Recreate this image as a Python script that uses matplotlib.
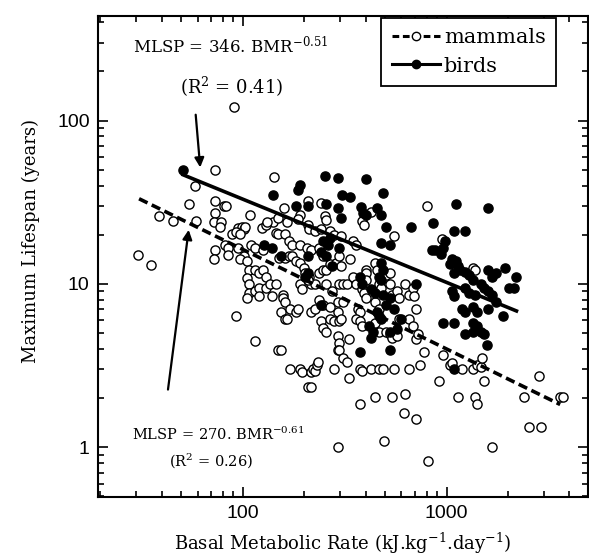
import numpy as np
import matplotlib
matplotlib.use('Agg')
import matplotlib.pyplot as plt
from matplotlib.lines import Line2D
from matplotlib.ticker import LogLocator, NullFormatter, FixedLocator, FixedFormatter

plt.rcParams['font.family'] = 'DejaVu Serif'
plt.rcParams['mathtext.fontset'] = 'dejavuserif'

# Mammals: basal metabolic rate (kJ/kg/day) vs maximum lifespan (years)
mammal_bmr = [90.7, 73, 142, 58, 54.5, 73, 80.5, 83, 159, 109, 39, 45.5, 58.8, 73, 72, 78,
              209, 241, 252, 191, 187, 140, 148, 164, 77.5, 95, 99, 101, 103, 89, 93, 97,
              124, 130, 131, 145, 148, 208, 212, 226, 241, 256, 268, 280, 304, 346, 361,
              384, 393, 427, 552, 161, 168, 175, 191, 206, 216, 236, 246, 81.5, 85, 73, 72,
              85, 95, 101, 110, 115, 125, 97, 105, 107, 115, 120, 125, 130, 151, 161, 168,
              175, 182, 191, 199, 203, 212, 216, 226, 105, 107, 107, 115, 120, 130, 136, 145,
              105, 120, 139, 158, 158, 161, 191, 195, 208, 236, 246, 256, 268, 285, 304, 298,
              310, 323, 256, 273, 236, 246, 268, 292, 310, 298, 337, 346, 361, 384, 393, 402,
              402, 402, 402, 446, 455, 465, 475, 528, 538, 573, 585, 624, 650, 682, 693, 705,
              446, 465, 367, 375, 361, 375, 384, 446, 465, 505, 528, 538, 573, 585, 650, 682,
              705, 720, 505, 528, 949, 801, 1346, 1375, 154, 161, 164, 171, 182, 187, 216, 226,
              241, 246, 268, 280, 292, 298, 304, 292, 298, 331, 292, 298, 310, 323, 256, 148,
              154, 115, 93, 171, 191, 195, 216, 221, 226, 231, 234, 208, 216, 280, 331, 375,
              384, 427, 465, 485, 552, 650, 743, 918, 1043, 1065, 1185, 1346, 1404, 1465, 1497,
              1529, 958, 775, 375, 446, 538, 624, 1135, 1375, 1404, 614, 705, 495, 292, 808,
              1665, 2546, 2895, 2389, 2832, 3578, 3734, 30.7, 35.6]
mammal_mlsp = [122, 50, 45, 40, 31, 32, 30, 30, 29, 26.6, 26, 24.4, 24.2, 27, 24, 24,
               32.4, 31.3, 26, 26.6, 25, 24, 25.3, 24, 22.4, 22, 22.4, 21.8, 22.4, 20.2, 20.7, 20.2,
               22, 23, 24, 20.4, 20.2, 23, 21.8, 21.2, 21.8, 24.7, 21.2, 19.9, 19.7, 18.3, 17.4,
               24.3, 23, 27.5, 19.7, 20.2, 18.3, 17.4, 17.4, 16.5, 16.1, 16.5, 14.9, 17.4, 16.5, 16.1, 14.2,
               15.1, 16.5, 14.9, 17.4, 16.5, 16.1, 14.2, 13.8, 12.2, 12.2, 11.6, 12.2, 11, 14.5, 14.5, 14.9,
               14.9, 13.8, 13.5, 12.5, 11.6, 11, 10, 10, 10.8, 10, 8.8, 9.1, 9.5, 9.5, 10, 10,
               8.2, 8.4, 8.4, 8.6, 8.2, 7.8, 10, 9.3, 10.5, 11.6, 12.2, 12.2, 13.2, 13.5, 12.8, 10,
               10, 10, 10, 9.1, 8, 7.4, 7.2, 7.8, 7.8, 14.9, 14.2, 11, 10, 9.3, 8.8, 8.2,
               12.2, 11.6, 10.5, 13.5, 12.2, 10, 9.5, 10, 8.6, 9.1, 8.2, 10, 8.6, 9.5, 8.4, 7.05,
               7.8, 7.05, 7.05, 6.7, 6.06, 5.9, 5.5, 5.76, 5.08, 5.08, 4.95, 4.7, 4.83, 6.06, 6.06, 5.5,
               4.6, 4.95, 11.3, 11.6, 18.9, 30, 12.5, 12.1, 6.7, 6.06, 6.06, 7.05, 6.7, 7.05, 6.7, 7.05,
               5.9, 5.34, 6.06, 5.9, 6.7, 5.9, 6.06, 4.83, 4.37, 4.6, 3.95, 3.95, 3.5, 3.34, 5.08, 3.95,
               3.95, 4.5, 6.4, 3.0, 3.0, 2.87, 2.87, 3.0, 2.94, 3.17, 3.34, 2.35, 2.35, 3.0, 2.66, 3.0,
               2.94, 3.0, 3.0, 3.0, 3.0, 3.0, 3.17, 2.53, 3.17, 3.26, 3.0, 3.0, 3.17, 3.1, 3.5,
               2.53, 3.68, 3.85, 1.83, 2.02, 2.02, 2.12, 2.02, 2.02, 1.83, 1.62, 1.5, 1.1, 1.0, 0.82,
               1.0, 1.33, 1.33, 2.02, 2.73, 2.02, 2.02, 15.1, 13.0]

# Birds
bird_bmr = [51, 140, 187, 191, 254, 292, 402, 485, 208, 182, 256, 292, 306, 337, 380, 389,
            402, 302, 455, 475, 668, 861, 1111, 1595, 1088, 1236, 505, 246, 268, 262, 241, 256,
            298, 475, 843, 880, 937, 1043, 1065, 1111, 1135, 1160, 1088, 1236, 1290, 1346, 1595, 1665,
            1737, 1930, 2190, 1465, 1529, 1595, 1665, 1236, 1290, 1375, 1065, 1088, 1185, 1236, 1346, 1404,
            1595, 1737, 1891, 2015, 2148, 1346, 1404, 1465, 1529, 1236, 1346, 1088, 958, 1580, 1088, 208,
            203, 208, 273, 375, 384, 427, 446, 475, 485, 465, 475, 485, 528, 505, 552, 600,
            455, 465, 475, 418, 436, 427, 528, 573, 705, 241, 375, 528, 528, 154, 127, 139,
            978, 958]
bird_mlsp = [50, 35, 37.5, 40.6, 46, 44.4, 43.8, 36.2, 30, 30, 31, 29.3, 35, 34, 29.6, 27.2,
             26.6, 25.3, 29.3, 26.6, 22.4, 23.5, 31, 29, 21.2, 21.2, 22.4, 18.3, 19.2, 17.4, 15.7, 14.9,
             16.5, 17.8, 16.1, 16.1, 15.3, 13.2, 14.2, 13.8, 12.8, 12.2, 11.6, 11.9, 11.3, 10.5, 12.2, 11,
             11.6, 12.5, 11, 10, 9.5, 9.1, 8.6, 9.5, 8.8, 8.6, 9.1, 8.4, 7.05, 6.7, 7.2, 6.7,
             7.05, 7.8, 6.4, 9.5, 9.5, 5.76, 5.5, 5.08, 4.95, 4.95, 5.08, 5.76, 5.76, 4.2, 3.0, 11.6,
             11, 14.9, 12.8, 11, 10, 9.3, 8.8, 13.5, 12.2, 11, 10.5, 8.6, 8.2, 7.4, 7.05, 6.06,
             6.7, 6.4, 6.06, 5.5, 5.1, 4.7, 5.1, 5.3, 10, 7.4, 3.85, 3.95, 17.4, 14.9, 17.4, 16.5,
             18.3, 16.5]

# allometric fits MLSP = a * BMR^b
mammal_a, mammal_b = 270, -0.61
bird_a, bird_b = 346, -0.51
mammal_fit_x = [31, 3600]
bird_fit_x = [50, 2240]

fig = plt.figure(figsize=(5.89, 5.58), dpi=100)
ax = fig.add_axes([0.1664, 0.1093, 0.8319, 0.862])
ax.set_xscale('log')
ax.set_yscale('log')

ax.plot(mammal_bmr, mammal_mlsp, 'o', mfc='white', mec='black', mew=1.0, ms=6.6, zorder=2)
ax.plot(bird_bmr, bird_mlsp, 'o', mfc='black', mec='black', ms=6.6, zorder=3)

mx = np.array(mammal_fit_x)
bx = np.array(bird_fit_x)
ax.plot(mx, mammal_a * mx ** mammal_b, color='black', lw=2.6, dashes=(2.6, 1.3), zorder=4)
ax.plot(bx, bird_a * bx ** bird_b, color='black', lw=2.6, solid_capstyle='butt', zorder=4)

ax.set_xlim(19.5, 4930)
ax.set_ylim(0.496, 437)

ax.xaxis.set_major_locator(FixedLocator([100, 1000]))
ax.xaxis.set_major_formatter(FixedFormatter(['100', '1000']))
ax.yaxis.set_major_locator(FixedLocator([1, 10, 100]))
ax.yaxis.set_major_formatter(FixedFormatter(['1', '10', '100']))
for axis in (ax.xaxis, ax.yaxis):
    axis.set_minor_locator(LogLocator(base=10, subs=np.arange(2, 10), numticks=20))
    axis.set_minor_formatter(NullFormatter())

ax.tick_params(which='both', direction='in', top=True, right=True, width=1.2)
ax.tick_params(which='major', length=7, labelsize=14, pad=6)
ax.tick_params(which='minor', length=4)
for lab in ax.get_xticklabels() + ax.get_yticklabels():
    lab.set_family('Liberation Sans')
for spine in ax.spines.values():
    spine.set_linewidth(1.5)

ax.set_xlabel('Basal Metabolic Rate (kJ.kg$^{-1}$.day$^{-1}$)', fontsize=13, labelpad=6)
ax.set_ylabel('Maximum Lifespan (years)', fontsize=13)
ax.yaxis.set_label_coords(-0.118, 0.532)

# annotations
ax.text(0.27, 0.937, 'MLSP = 346. BMR$^{-0.51}$', transform=ax.transAxes, ha='center', va='center', fontsize=12)
ax.text(0.272, 0.853, '(R$^{2}$ = 0.41)', transform=ax.transAxes, ha='center', va='center', fontsize=13)
ax.annotate('', xy=(62, 49.7), xytext=(58.6, 113),
            arrowprops=dict(arrowstyle='-|>', color='black', lw=1.6, mutation_scale=14))
ax.annotate('', xy=(54.5, 22.3), xytext=(42.8, 2.17),
            arrowprops=dict(arrowstyle='-|>', color='black', lw=1.6, mutation_scale=14))
ax.text(0.245, 0.13, 'MLSP = 270. BMR$^{-0.61}$', transform=ax.transAxes, ha='center', va='center', fontsize=10.5)
ax.text(0.23, 0.075, '(R$^{2}$ = 0.26)', transform=ax.transAxes, ha='center', va='center', fontsize=10.5)

handles = [Line2D([], [], color='black', lw=2.2, dashes=(2.2, 1.2), marker='o', mfc='white', mec='black', ms=6),
           Line2D([], [], color='black', lw=2.2, marker='o', mfc='black', ms=6)]
leg = ax.legend(handles, ['mammals', 'birds'], loc='upper right', bbox_to_anchor=(0.935, 0.996),
                borderaxespad=0, fontsize=15, frameon=True, fancybox=False, edgecolor='black',
                framealpha=1, handlelength=2.3, handletextpad=0.2, borderpad=0.5,
                labelspacing=0.45, numpoints=1)
leg.get_frame().set_linewidth(1.3)

fig.savefig('out.png', dpi=100)
